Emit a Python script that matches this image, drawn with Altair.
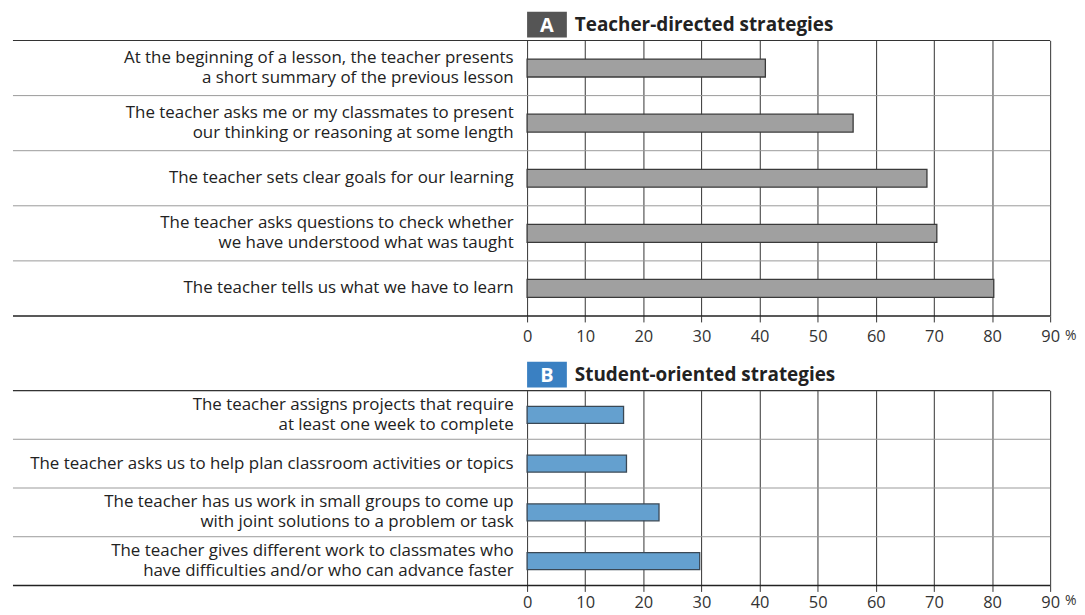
import altair as alt
import pandas as pd

cats_a = [
    "At the beginning of a lesson, the teacher presents|a short summary of the previous lesson",
    "The teacher asks me or my classmates to present|our thinking or reasoning at some length",
    "The teacher sets clear goals for our learning",
    "The teacher asks questions to check whether|we have understood what was taught",
    "The teacher tells us what we have to learn",
]
vals_a = [41.0, 56.1, 68.8, 70.5, 80.3]

cats_b = [
    "The teacher assigns projects that require|at least one week to complete",
    "The teacher asks us to help plan classroom activities or topics",
    "The teacher has us work in small groups to come up|with joint solutions to a problem or task",
    "The teacher gives different work to classmates who|have difficulties and/or who can advance faster",
]
vals_b = [16.6, 17.1, 22.7, 29.7]

ticks = [0, 10, 20, 30, 40, 50, 60, 70, 80, 90]
FONT = "Open Sans"
W = 526
LEFT = -517


def panel(cats, vals, letter, title, box_color, bar_fill, bar_stroke, H, bar_size, lab_pad):
    df = pd.DataFrame({"cat": cats, "val": vals})
    xs = alt.X(
        "val:Q",
        scale=alt.Scale(domain=[0, 90], nice=False),
        axis=alt.Axis(
            values=ticks, title=None, grid=True, gridColor="#333333", gridWidth=1,
            gridOpacity=1, domain=False, tickSize=6, tickColor="#333333",
            labelFontSize=16.5, labelColor="#333333", labelFont=FONT, labelPadding=lab_pad,
            labelFlush=False,
        ),
    )
    ys = alt.Y(
        "cat:N", sort=None, scale=alt.Scale(paddingInner=0, paddingOuter=0),
        axis=alt.Axis(
            title=None, ticks=False, domain=False, labelPadding=14, labelFontSize=17,
            labelFont=FONT, labelColor="#222222", labelLimit=0, labelLineHeight=20,
            labelExpr="split(datum.label, '|')",
            labelOffset={"condition": {"test": "indexof(datum.value, '|') >= 0", "value": -10},
                         "value": 0},
        ),
    )
    base = alt.Chart(df)
    seps = base.mark_rule(color="#9a9a9a", strokeWidth=1).encode(
        y=alt.Y("cat:N", sort=None, bandPosition=0), x=alt.value(LEFT), x2=alt.value(W)
    )
    bars = base.mark_bar(size=bar_size, color=bar_fill, stroke=bar_stroke, strokeWidth=1.3).encode(
        x=xs, y=ys
    )
    one = alt.Chart(pd.DataFrame({"t": [letter], "title": [title], "pct": ["%"]}))
    top = one.mark_rule(color="#333333", strokeWidth=1.2).encode(
        x=alt.value(LEFT), x2=alt.value(W), y=alt.value(0)
    )
    bottom = one.mark_rule(color="#222222", strokeWidth=1.5).encode(
        x=alt.value(LEFT), x2=alt.value(W), y=alt.value(H)
    )
    box = one.mark_rect(color=box_color).encode(
        x=alt.value(0), x2=alt.value(40), y=alt.value(-29), y2=alt.value(-3)
    )
    letter_t = one.mark_text(color="white", font=FONT, fontSize=20, fontWeight="bold",
                             align="center", baseline="middle").encode(
        x=alt.value(20), y=alt.value(-15), text="t:N"
    )
    title_t = one.mark_text(color="#222222", font=FONT, fontSize=19, fontWeight="bold",
                            align="left", baseline="middle").encode(
        x=alt.value(48), y=alt.value(-16), text="title:N"
    )
    pct = one.mark_text(color="#333333", font=FONT, fontSize=14, align="left",
                        baseline="middle").encode(
        x=alt.value(W + 15), y=alt.value(H + 13 + lab_pad), text="pct:N"
    )
    return alt.layer(seps, bars, top, bottom, box, letter_t, title_t, pct).properties(
        width=W, height=H
    )


pa = panel(cats_a, vals_a, "A", "Teacher-directed strategies", "#555555", "#a0a0a0", "#3a3a3a", 277, 18, 7)
pb = panel(cats_b, vals_b, "B", "Student-oriented strategies", "#3a80c2", "#64a0cf", "#3a4855", 196, 17, 3)

chart = alt.vconcat(pa, pb, spacing=75, bounds="flush").properties(
    padding={"left": 4, "top": 2, "right": 0, "bottom": 0},
    background="white",
).configure_view(stroke=None)

chart.save("out.html", embed_options={"renderer": "svg", "actions": False})
